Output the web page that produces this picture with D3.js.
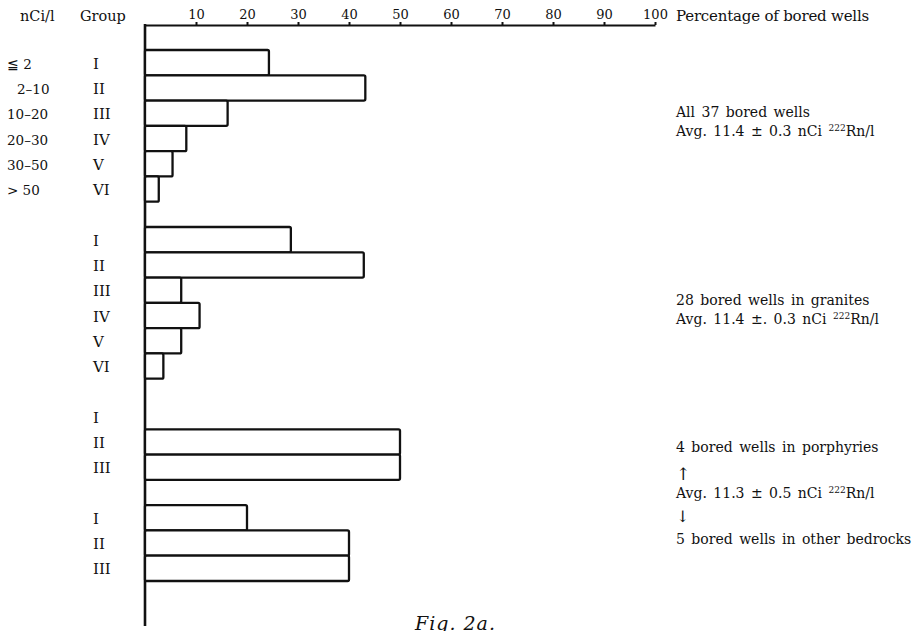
<!DOCTYPE html>
<html lang="en">
<head>
<meta charset="UTF-8">
<title>Fig. 2a</title>
<script src="https://d3js.org/d3.v7.min.js"></script>
<style>
  body { margin: 0; background: #fff; }
  svg { display: block; }
  text { font-family: "DejaVu Serif", "Liberation Serif", serif; fill: #111; }
</style>
</head>
<body>
<svg width="921" height="631"></svg>
<script>
// values (percent of bored wells per group)
const groupLabels = ["I", "II", "III", "IV", "V", "VI"];
const rangeLabels = ["≦ 2", "2–10", "10–20", "20–30", "30–50", "> 50"];
const allWells   = [24.3, 43.2, 16.2, 8.1, 5.4, 2.7];   // 37 wells
const granites   = [28.6, 42.9, 7.1, 10.7, 7.1, 3.6];   // 28 wells
const porphyries = [0, 50, 50];                         // 4 wells
const otherRocks = [20, 40, 40];                        // 5 wells
const xTicks = [10, 20, 30, 40, 50, 60, 70, 80, 90, 100];

const blocks = [allWells, granites, porphyries, otherRocks];

// one slot per bar, one empty slot between blocks
let rows = [];
let slot = 0;
blocks.forEach((vals, b) => {
  vals.forEach((v, i) => {
    rows.push({ block: b, idx: i, value: v, group: groupLabels[i], slot: slot++ });
  });
  if (b < blocks.length - 1) slot++;
});

const svg = d3.select("svg");

const x = d3.scaleLinear().domain([0, 100]).range([145, 655]);
const y = d3.scaleBand().domain(d3.range(slot)).range([50, 581]).padding(0);

// top axis
const ax = svg.append("g")
  .attr("transform", "translate(0,25)")
  .call(d3.axisTop(x).tickValues(xTicks).tickSize(3).tickSizeOuter(0).tickPadding(3));
ax.select(".domain").attr("stroke", "#111").attr("stroke-width", 2.2);
ax.selectAll(".tick line").attr("stroke", "#111").attr("stroke-width", 2);
ax.selectAll(".tick text").attr("fill", "#111")
  .style("font-family", "DejaVu Serif, serif").style("font-size", "13px");

// vertical base line
svg.append("line")
  .attr("x1", x(0)).attr("x2", x(0))
  .attr("y1", 24).attr("y2", 626)
  .attr("stroke", "#111").attr("stroke-width", 2.6);

// bars
svg.append("g").selectAll("rect")
  .data(rows.filter(d => d.value > 0))
  .join("rect")
  .attr("x", x(0))
  .attr("y", d => y(d.slot))
  .attr("width", d => x(d.value) - x(0))
  .attr("height", y.bandwidth())
  .attr("rx", 1.5)
  .attr("fill", "#fff")
  .attr("stroke", "#111")
  .attr("stroke-width", 2.3);

// group labels
svg.append("g").selectAll("text")
  .data(rows)
  .join("text")
  .attr("x", 93)
  .attr("y", d => y(d.slot) + y.bandwidth() / 2 + 6)
  .style("font-size", "15px")
  .text(d => d.group);

// concentration classes (first block only)
svg.append("g").selectAll("text")
  .data(rows.filter(d => d.block === 0))
  .join("text")
  .attr("x", d => d.idx === 1 ? 17 : 7)
  .attr("y", d => y(d.slot) + y.bandwidth() / 2 + 6)
  .style("font-size", "13.5px")
  .text(d => rangeLabels[d.idx]);

// column headers
svg.append("text").attr("x", 20).attr("y", 21).style("font-size", "14.5px").text("nCi/l");
svg.append("text").attr("x", 80).attr("y", 21).style("font-size", "14.5px").text("Group");
svg.append("text").attr("x", 676).attr("y", 21).style("font-size", "15px")
  .style("letter-spacing", "-0.2px")
  .text("Percentage of bored wells");

// annotations on the right
function avgLine(yPos, txt) {
  const t = svg.append("text").attr("x", 676).attr("y", yPos)
    .style("font-size", "14px").style("word-spacing", "2px");
  t.append("tspan").text(txt + " nCi ");
  t.append("tspan").attr("dy", -5).style("font-size", "9px").text("222");
  t.append("tspan").attr("dy", 5).text("Rn/l");
}
function plainLine(yPos, txt, size) {
  svg.append("text").attr("x", 676).attr("y", yPos)
    .style("font-size", size || "14px").style("word-spacing", "2px")
    .text(txt);
}
plainLine(117, "All 37 bored wells");
avgLine(136, "Avg. 11.4  ±  0.3");
plainLine(305, "28 bored wells in granites");
avgLine(324, "Avg. 11.4  ±. 0.3");
plainLine(452, "4 bored wells in porphyries");
plainLine(480, "↑", "17px");
avgLine(498, "Avg. 11.3  ±  0.5");
plainLine(522, "↓", "16px");
plainLine(544, "5 bored wells in other bedrocks");

// caption
svg.append("text").attr("x", 415).attr("y", 630)
  .style("font-size", "19px").style("font-style", "italic").style("letter-spacing", "1px")
  .text("Fig. 2a.");
</script>
</body>
</html>
